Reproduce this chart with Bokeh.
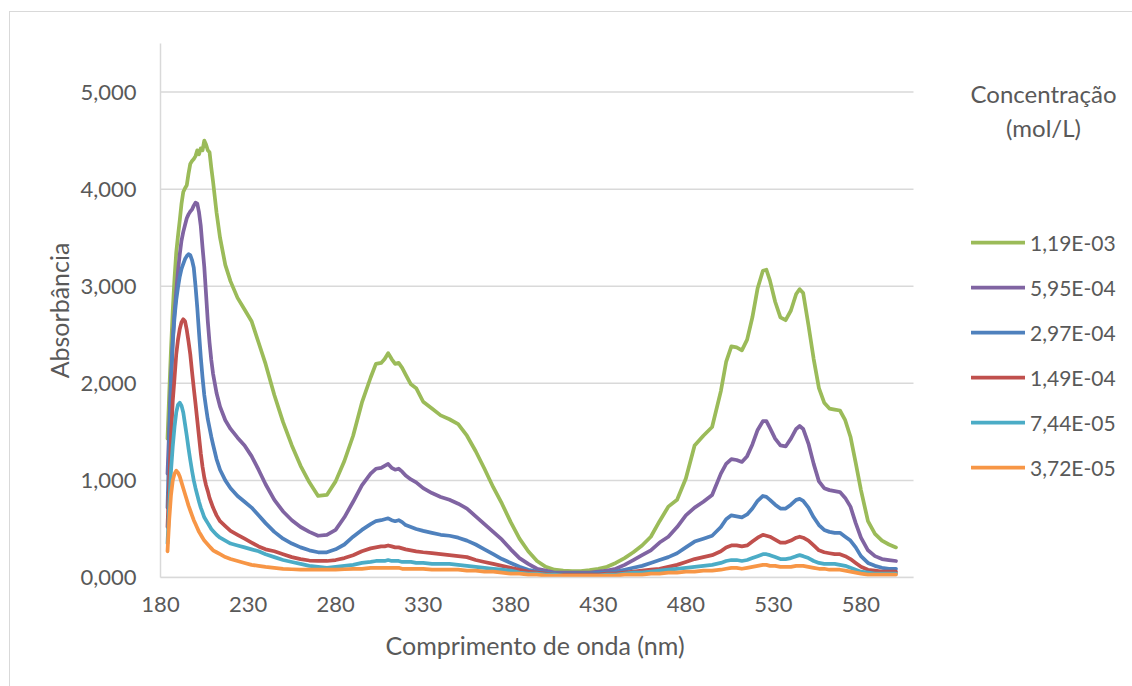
from bokeh.plotting import figure
from bokeh.models import (Legend, LegendItem, Label, Title, FixedTicker, CustomJSTickFormatter, Range1d)
from bokeh.embed import file_html
from bokeh.resources import INLINE

wavelength = [184,185,186,187,188,189,190,191,192,193,194,195,196,197,198,199,200,201,202,203,204,205,206,207,208,209,210,
              212,214,217,220,224,228,232,236,240,245,250,255,260,265,270,275,280,285,290,295,300,
              303,306,308,310,312,314,316,318,320,323,326,330,335,340,345,350,355,360,365,370,375,380,385,390,395,400,
              405,410,415,420,425,430,435,440,445,450,455,460,465,470,475,480,485,490,495,500,
              503,506,509,512,515,518,521,524,526,528,531,534,537,540,543,545,547,550,553,556,559,562,565,568,571,574,577,580,
              584,588,592,596,600]

conc_1_19e_03 = [1.43,1.90,2.35,2.75,3.08,3.35,3.52,3.68,3.85,3.97,4.01,4.04,4.16,4.26,4.29,4.31,4.34,4.40,4.36,4.42,4.40,4.50,4.46,4.40,4.38,4.22,4.08,
                 3.76,3.50,3.22,3.05,2.88,2.76,2.64,2.42,2.20,1.88,1.60,1.36,1.15,0.98,0.84,0.85,0.99,1.20,1.46,1.80,2.06,
                 2.20,2.21,2.25,2.31,2.25,2.20,2.21,2.16,2.09,1.99,1.95,1.81,1.74,1.67,1.63,1.58,1.46,1.30,1.12,0.93,0.76,0.57,0.40,0.27,0.17,0.11,
                 0.08,0.07,0.065,0.065,0.075,0.09,0.11,0.15,0.20,0.26,0.33,0.42,0.58,0.73,0.80,1.02,1.36,1.46,1.55,1.92,
                 2.22,2.38,2.37,2.34,2.45,2.68,2.98,3.16,3.17,3.06,2.84,2.68,2.65,2.75,2.92,2.97,2.93,2.60,2.25,1.95,1.80,1.74,1.73,1.72,1.62,1.45,1.18,0.90,
                 0.58,0.45,0.38,0.34,0.31]

conc_5_95e_04 = [1.07,1.55,2.05,2.45,2.72,2.95,3.16,3.33,3.47,3.56,3.63,3.70,3.74,3.77,3.79,3.83,3.86,3.85,3.76,3.62,3.40,3.20,2.92,2.64,2.42,2.24,2.10,
                 1.90,1.76,1.62,1.53,1.44,1.36,1.25,1.11,0.96,0.80,0.68,0.59,0.52,0.47,0.43,0.44,0.49,0.62,0.78,0.95,1.07,
                 1.12,1.13,1.15,1.17,1.13,1.11,1.12,1.09,1.05,1.01,0.98,0.92,0.87,0.83,0.80,0.76,0.71,0.63,0.55,0.47,0.39,0.29,0.20,0.14,0.09,0.07,
                 0.05,0.05,0.05,0.05,0.05,0.06,0.07,0.09,0.13,0.18,0.23,0.28,0.36,0.42,0.52,0.64,0.72,0.78,0.85,1.07,
                 1.17,1.22,1.21,1.19,1.25,1.37,1.52,1.61,1.61,1.54,1.43,1.36,1.35,1.43,1.53,1.56,1.53,1.38,1.17,0.99,0.92,0.90,0.89,0.88,0.82,0.73,0.56,0.41,
                 0.28,0.22,0.19,0.18,0.17]

conc_2_97e_04 = [0.72,1.40,2.00,2.42,2.68,2.86,2.99,3.10,3.18,3.23,3.28,3.31,3.33,3.32,3.27,3.19,3.00,2.78,2.52,2.27,2.06,1.88,1.75,1.63,1.54,1.45,1.37,
                 1.22,1.11,1.00,0.92,0.84,0.78,0.72,0.64,0.56,0.47,0.40,0.35,0.31,0.28,0.26,0.26,0.29,0.34,0.42,0.49,0.55,
                 0.58,0.59,0.60,0.61,0.59,0.58,0.59,0.57,0.54,0.52,0.50,0.48,0.46,0.44,0.43,0.41,0.38,0.34,0.29,0.24,0.19,0.15,0.11,0.08,0.06,0.05,
                 0.04,0.04,0.04,0.04,0.04,0.05,0.05,0.06,0.08,0.10,0.12,0.15,0.18,0.21,0.25,0.31,0.37,0.40,0.43,0.52,
                 0.60,0.64,0.63,0.62,0.65,0.71,0.79,0.84,0.83,0.80,0.75,0.71,0.71,0.75,0.80,0.81,0.79,0.72,0.62,0.54,0.49,0.47,0.46,0.46,0.42,0.38,0.31,0.22,
                 0.15,0.12,0.10,0.09,0.09]

conc_1_49e_04 = [0.52,1.00,1.45,1.82,2.05,2.30,2.45,2.56,2.63,2.66,2.64,2.55,2.43,2.30,2.12,1.95,1.79,1.62,1.45,1.28,1.14,1.03,0.95,0.89,0.82,0.77,0.72,
                 0.64,0.58,0.53,0.48,0.44,0.40,0.36,0.32,0.29,0.27,0.24,0.21,0.19,0.175,0.17,0.17,0.18,0.20,0.23,0.27,0.30,
                 0.31,0.32,0.32,0.33,0.32,0.31,0.31,0.30,0.29,0.28,0.27,0.26,0.25,0.24,0.23,0.22,0.21,0.18,0.16,0.14,0.12,0.10,0.08,0.06,0.05,0.04,
                 0.03,0.03,0.03,0.03,0.03,0.03,0.04,0.04,0.05,0.06,0.07,0.08,0.09,0.11,0.13,0.16,0.19,0.21,0.23,0.27,
                 0.31,0.33,0.33,0.32,0.33,0.37,0.41,0.44,0.43,0.42,0.39,0.36,0.36,0.38,0.41,0.42,0.41,0.38,0.33,0.28,0.26,0.25,0.24,0.24,0.22,0.19,0.15,0.11,
                 0.08,0.07,0.06,0.06,0.06]

conc_7_44e_05 = [0.35,0.75,1.10,1.35,1.55,1.70,1.78,1.80,1.77,1.70,1.58,1.46,1.33,1.21,1.10,1.00,0.92,0.85,0.78,0.72,0.67,0.62,0.59,0.56,0.53,0.50,0.48,
                 0.44,0.41,0.38,0.35,0.33,0.31,0.29,0.27,0.24,0.21,0.18,0.16,0.14,0.12,0.11,0.10,0.11,0.12,0.13,0.15,0.16,
                 0.17,0.17,0.17,0.18,0.17,0.17,0.17,0.16,0.16,0.16,0.15,0.15,0.14,0.14,0.14,0.13,0.12,0.11,0.10,0.09,0.08,0.07,0.05,0.04,0.04,0.03,
                 0.03,0.02,0.02,0.02,0.02,0.02,0.03,0.03,0.04,0.05,0.05,0.06,0.07,0.08,0.09,0.10,0.11,0.12,0.13,0.15,
                 0.17,0.18,0.18,0.17,0.18,0.20,0.22,0.24,0.24,0.23,0.21,0.19,0.19,0.20,0.22,0.23,0.22,0.20,0.17,0.15,0.14,0.14,0.14,0.13,0.12,0.10,0.08,0.06,
                 0.05,0.04,0.04,0.04,0.04]

conc_3_72e_05 = [0.27,0.60,0.85,1.00,1.07,1.10,1.08,1.04,0.98,0.92,0.86,0.80,0.74,0.69,0.64,0.59,0.55,0.51,0.47,0.44,0.41,0.38,0.36,0.34,0.32,0.30,0.28,
                 0.26,0.24,0.21,0.19,0.17,0.15,0.13,0.12,0.11,0.10,0.09,0.085,0.08,0.08,0.08,0.08,0.08,0.085,0.09,0.09,0.10,
                 0.10,0.10,0.10,0.10,0.10,0.10,0.10,0.09,0.09,0.09,0.09,0.09,0.08,0.08,0.08,0.08,0.07,0.07,0.06,0.06,0.05,0.04,0.04,0.03,0.03,0.02,
                 0.02,0.02,0.02,0.02,0.02,0.02,0.02,0.02,0.03,0.03,0.03,0.04,0.04,0.05,0.05,0.06,0.06,0.07,0.07,0.08,
                 0.09,0.10,0.10,0.09,0.10,0.11,0.12,0.13,0.13,0.12,0.12,0.11,0.11,0.11,0.12,0.12,0.12,0.11,0.10,0.09,0.09,0.08,0.08,0.08,0.07,0.06,0.05,0.04,
                 0.03,0.03,0.03,0.03,0.03]

series_labels = ["1,19E-03", "5,95E-04", "2,97E-04", "1,49E-04", "7,44E-05", "3,72E-05"]
series_values = [conc_1_19e_03, conc_5_95e_04, conc_2_97e_04, conc_1_49e_04, conc_7_44e_05, conc_3_72e_05]
series_colors = ["#9BBB59", "#8064A2", "#4F81BD", "#C0504D", "#4BACC6", "#F79646"]
legend_title = ["Concentração", "(mol/L)"]
x_title = "Comprimento de onda (nm)"
y_title = "Absorbância"
x_ticks = [180, 230, 280, 330, 380, 430, 480, 530, 580]
y_ticks = [0, 1, 2, 3, 4, 5]
x_axis_min, x_axis_max = 180, 610
y_axis_min, y_axis_max = 0, 5.5

for s in series_values:
    assert len(s) == len(wavelength), len(s)

FONT = "Lato"
TXT = "#595959"
GRID = "#D9D9D9"

# plot-area geometry (pixels)
FRAME_W = 965          # frame extends under the legend; axis/grid stop at x_axis_max
AXIS_W = 753           # pixel width of the 180..610 axis
px_per_nm = AXIS_W / (x_axis_max - x_axis_min)
frame_x_end = x_axis_min + FRAME_W / px_per_nm

p = figure(width=1123, height=675, output_backend="svg", toolbar_location=None,
           x_range=Range1d(x_axis_min, frame_x_end), y_range=Range1d(y_axis_min, y_axis_max),
           min_border_left=150, min_border_right=8, min_border_top=31, min_border_bottom=110,
           background_fill_color="white", border_fill_color="white")
p.margin = (11, 0, 0, 9)
p.styles = {"border-top": "1px solid #D9D9D9", "border-left": "1px solid #D9D9D9"}
p.outline_line_color = None

p.xgrid.grid_line_color = None
p.ygrid.grid_line_color = None
# horizontal gridlines limited to the axis extent
p.segment(x0=[x_axis_min] * len(y_ticks), x1=[x_axis_max] * len(y_ticks), y0=y_ticks, y1=y_ticks,
          line_color=GRID, line_width=1.5)

p.xaxis.ticker = FixedTicker(ticks=x_ticks)
p.xaxis.bounds = (x_axis_min, x_axis_max)
p.yaxis.ticker = FixedTicker(ticks=y_ticks)
p.yaxis.formatter = CustomJSTickFormatter(code="return tick.toFixed(3).replace('.', ',');")

for ax in (p.xaxis[0], p.yaxis[0]):
    ax.axis_line_color = GRID
    ax.axis_line_width = 1.5
    ax.major_tick_line_color = None
    ax.minor_tick_line_color = None
    ax.major_label_text_font = FONT
    ax.major_label_text_font_size = "22px"
    ax.major_label_text_color = TXT
    ax.axis_label_text_font = FONT
    ax.axis_label_text_font_size = "25px"
    ax.axis_label_text_font_style = "normal"
    ax.axis_label_text_color = TXT

p.yaxis.axis_label = y_title
p.xaxis.major_label_standoff = 13
p.yaxis.major_label_standoff = 18
p.yaxis.axis_label_standoff = 3

# x-axis title, positioned under the 180..610 axis (not the whole frame)
p.add_layout(Title(text=x_title, align="left", offset=225, standoff=27,
                   text_font=FONT, text_font_size="25px", text_font_style="normal",
                   text_color=TXT), "below")

items = []
for lab, vals, col in zip(series_labels, series_values, series_colors):
    r = p.line(wavelength, vals, line_color=col, line_width=3.75, line_join="round", line_cap="round")
    items.append(LegendItem(label=lab, renderers=[r]))

legend = Legend(items=items, location=(811, 97), orientation="vertical",
                glyph_width=54, glyph_height=26, label_height=26, spacing=19,
                label_standoff=5, padding=0, margin=0,
                border_line_color=None, background_fill_alpha=0,
                label_text_font=FONT, label_text_font_size="21px", label_text_color=TXT)
p.add_layout(legend)

title_x = x_axis_min + (1043 - 160) / px_per_nm
for txt, ypix in zip(legend_title, (93, 127)):
    p.add_layout(Label(x=title_x, y=(577 - ypix) / 534 * y_axis_max, text=txt,
                       text_align="center", text_baseline="middle",
                       text_font=FONT, text_font_size="24px", text_color=TXT))

open("out.html", "w").write(file_html(p, INLINE))
